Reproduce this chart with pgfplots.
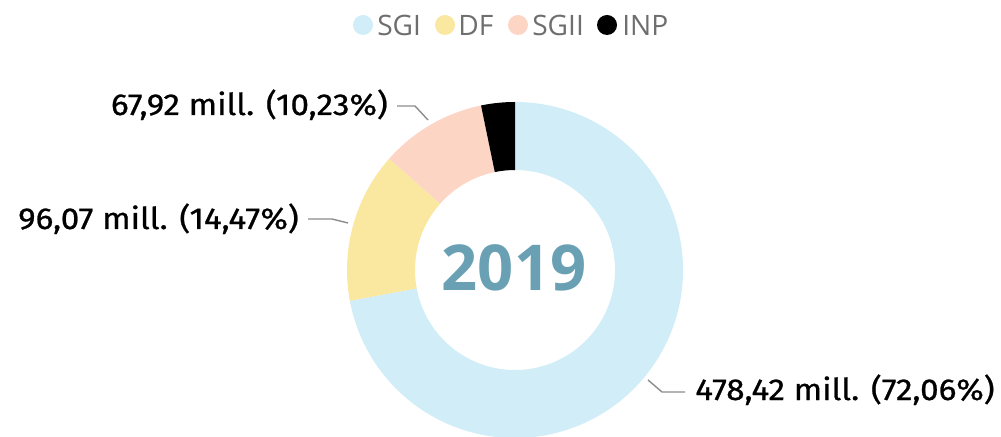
\documentclass[border=0pt]{standalone}
\usepackage{fontspec}
\setmainfont{Fira Sans}
\newfontfamily\legfont{Open Sans}
\newfontfamily\labfamily[FakeStretch=1.1, FakeBold=0.8]{Fira Sans}
\usepackage{pgfplots}
\pgfplotsset{compat=1.18}
\definecolor{sgi}{HTML}{D1EDF7}
\definecolor{df}{HTML}{FAE8A1}
\definecolor{sgii}{HTML}{FDD5C4}
\definecolor{inp}{HTML}{000000}
\definecolor{yearcol}{HTML}{6AA0B3}
\definecolor{legtext}{HTML}{6E6E6E}
\definecolor{leader}{HTML}{8C8C8C}
\newcommand{\labfont}{\labfamily\fontsize{21.5}{25}\selectfont}

\begin{document}
\begin{tikzpicture}
\begin{axis}[x=0.25mm, y=0.25mm, xmin=0, xmax=1001, ymin=0, ymax=436,
  hide axis, clip=false]
% donut, shares in percent, clockwise from 12 o'clock
\gdef\start{90}
\foreach \p/\col in {72.06/sgi, 14.47/df, 10.23/sgii, 3.24/inp} {
  \pgfmathsetmacro\stop{\start-3.6*\p}
  \edef\temp{\noexpand\fill[\col] (axis cs:515,166) ++(\start:42mm)
    arc[start angle=\start, end angle=\stop, radius=42mm] -- ++(\stop:-17mm)
    arc[start angle=\stop, end angle=\start, radius=25mm] -- cycle;}
  \temp
  \xdef\start{\stop}
}
\node[text=yearcol, inner sep=0, font=\legfont\bfseries\fontsize{45}{50}\selectfont]
  at (axis cs:514,168) {2019};

% data labels
\draw[leader, line width=1pt] (axis cs:397,330) -- (axis cs:415,330) -- (axis cs:428,316);
\node[anchor=base east, inner sep=0, font=\labfont] at (axis cs:388,321) {67,92 mill. (10,23\%)};
\draw[leader, line width=1pt] (axis cs:308,217) -- (axis cs:332,217) -- (axis cs:348,213);
\node[anchor=base east, inner sep=0, font=\labfont] at (axis cs:299,207) {96,07 mill. (14,47\%)};
\draw[leader, line width=1pt] (axis cs:648,56) -- (axis cs:662,44) -- (axis cs:685,44);
\node[anchor=base west, inner sep=0, font=\labfont] at (axis cs:695,36) {478,42 mill. (72,06\%)};

% legend
\fill[sgi] (axis cs:363,411) circle[radius=2.5mm];
\node[anchor=base west, inner sep=0, text=legtext, font=\legfont\fontsize{20}{24}\selectfont] at (axis cs:377,400) {SGI};
\fill[df] (axis cs:445,411) circle[radius=2.5mm];
\node[anchor=base west, inner sep=0, text=legtext, font=\legfont\fontsize{20}{24}\selectfont] at (axis cs:458,400) {DF};
\fill[sgii] (axis cs:518,411) circle[radius=2.5mm];
\node[anchor=base west, inner sep=0, text=legtext, font=\legfont\fontsize{20}{24}\selectfont] at (axis cs:532,400) {SGII};
\fill[inp] (axis cs:607,411) circle[radius=2.5mm];
\node[anchor=base west, inner sep=0, text=legtext, font=\legfont\fontsize{20}{24}\selectfont] at (axis cs:622,400) {INP};
\end{axis}
\pgfresetboundingbox
\path[use as bounding box] (current axis.south west) rectangle (current axis.north east);
\end{tikzpicture}
\end{document}
